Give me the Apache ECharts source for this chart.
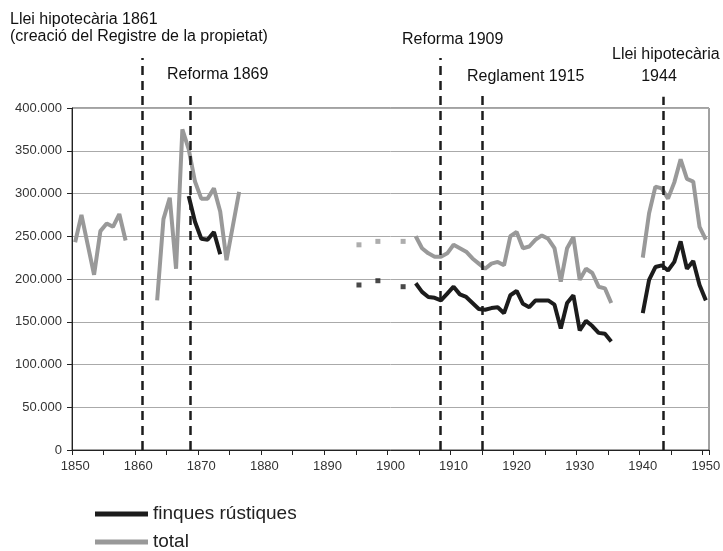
<!DOCTYPE html>
<html>
<head>
<meta charset="utf-8">
<script src="https://cdn.jsdelivr.net/npm/echarts@6.0.0/dist/echarts.min.js"></script>
<style>
html, body { margin: 0; padding: 0; background: #fff; }
#chart { width: 723px; height: 551px; }
</style>
</head>
<body>
<div id="chart"></div>
<script>
// years on the category axis
var firstYear = 1850, lastYear = 1950;
var years = [];
for (var y = firstYear; y <= lastYear; y++) years.push(String(y));

// total (grey)
var total1850 = [243000, 275000, 240000, 205000, 256000, 265000, 261000, 276000, 245000];
var total1863 = [175000, 270000, 295000, 212000, 375000, 352000, 314000, 294000, 294000, 306000, 279000, 222000, 262000, 302000];
var totalSingleYears = [1895, 1898, 1902];
var totalSingleValues = [240000, 244000, 244000];
var total1904 = [250000, 236000, 230000, 226000, 226000, 230000, 240000, 236000, 232000, 224000,
                 218000, 212000, 218000, 220000, 216000, 250000, 255000, 236000, 238000, 246000,
                 251000, 247000, 236000, 197000, 236000, 249000, 199000, 212000, 207000, 191000,
                 189000, 172000];
var total1940 = [225000, 277000, 308000, 306000, 294000, 313000, 340000, 317000, 314000, 261000, 246000];

// finques rustiques (black)
var rustic1868 = [297000, 267000, 247000, 246000, 255000, 229000];
var rusticSingleYears = [1895, 1898, 1902];
var rusticSingleValues = [193000, 198000, 191000];
var rustic1904 = [195000, 185000, 179000, 178000, 175000, 183000, 191000, 182000, 179000, 172000,
                  165000, 164000, 166000, 167000, 160000, 181000, 186000, 171000, 167000, 175000,
                  175000, 175000, 170000, 142000, 172000, 181000, 140000, 151000, 145000, 137000,
                  136000, 127000];
var rustic1940 = [160000, 199000, 214000, 216000, 210000, 220000, 244000, 212000, 221000, 193000, 175000];

// legislative events (dashed lines), position on the year scale
var eventYears = [1861.2, 1868.8, 1908.4, 1915.0, 1943.7];

// --- build aligned arrays ---
function blank() {
    var a = [];
    for (var i = 0; i < years.length; i++) a.push(null);
    return a;
}
function put(arr, start, vals) {
    for (var i = 0; i < vals.length; i++) arr[start - firstYear + i] = vals[i];
}
var totalData = blank();
put(totalData, 1850, total1850);
put(totalData, 1863, total1863);
put(totalData, 1904, total1904);
put(totalData, 1940, total1940);

var rusticData = blank();
put(rusticData, 1868, rustic1868);
put(rusticData, 1904, rustic1904);
put(rusticData, 1940, rustic1940);

function points(ys, vs) {
    return ys.map(function (yr, i) { return [String(yr), vs[i]]; });
}

var FONT = '"Liberation Sans", Arial, sans-serif';
var BLACK = '#1c1c1c';
var GREY = '#999999';

// top end of each dashed line (fraction of the overlay grid height)
var eventTops = [0.98, 0.9, 0.98, 0.9, 0.883];

function thousands(v) {
    return String(v).replace(/\B(?=(\d{3})+(?!\d))/g, '.');
}

function txt(x, y, s, align) {
    return {
        type: 'text', x: x, y: y, silent: true,
        style: { text: s, x: 0, y: 0, fill: '#111', font: '16px ' + FONT, textAlign: align || 'left', textVerticalAlign: 'top' }
    };
}

var myChart = echarts.init(document.getElementById('chart'));

var option = {
    animation: false,
    backgroundColor: '#fff',
    textStyle: { fontFamily: FONT },
    grid: [
        { left: 72, right: 14, top: 108, bottom: 101, show: true, borderColor: '#444', borderWidth: 1, containLabel: false, outerBoundsMode: 'none' },
        { left: 72, right: 14, top: 50, bottom: 101, containLabel: false, outerBoundsMode: 'none' }
    ],
    xAxis: [{
        type: 'category',
        gridIndex: 0,
        data: years,
        boundaryGap: true,
        axisLine: { show: true, lineStyle: { color: '#222', width: 1 } },
        axisTick: { show: true, interval: 4, length: 5, lineStyle: { color: '#222' } },
        axisLabel: { interval: 9, fontSize: 13, color: '#333', margin: 10, fontFamily: FONT },
        splitLine: { show: false }
    }, {
        type: 'value', gridIndex: 1, min: 1850, max: 1951, show: false
    }],
    yAxis: [{
        type: 'value',
        gridIndex: 0,
        min: 0,
        max: 400000,
        interval: 50000,
        axisLine: { show: true, lineStyle: { color: '#222', width: 1 } },
        axisTick: { show: true, length: 5, lineStyle: { color: '#222' } },
        axisLabel: { formatter: thousands, fontSize: 13, color: '#333', margin: 10, fontFamily: FONT },
        splitLine: { show: true, lineStyle: { color: '#aaaaaa', width: 1 } }
    }, {
        type: 'value', gridIndex: 1, min: 0, max: 1, show: false
    }],
    legend: {
        data: ['finques rústiques', 'total'],
        orient: 'vertical',
        left: 95,
        top: 504,
        height: 70,
        padding: 0,
        itemWidth: 53,
        itemHeight: 5,
        itemGap: 8,
        icon: 'rect',
        selectedMode: false,
        textStyle: { fontSize: 19, color: '#222', fontFamily: FONT, lineHeight: 20 }
    },
    graphic: [
        txt(10, 12, 'Llei hipotecària 1861'),
        txt(10, 29, '(creació del Registre de la propietat)'),
        txt(167, 67, 'Reforma 1869'),
        txt(402, 32, 'Reforma 1909'),
        txt(467, 69, 'Reglament 1915'),
        txt(612, 47, 'Llei hipotecària'),
        txt(659, 69, '1944', 'center')
    ],
    series: [{
        name: 'total',
        type: 'line',
        data: totalData,
        connectNulls: false,
        showSymbol: false,
        symbol: 'none',
        itemStyle: { color: GREY },
        lineStyle: { color: GREY, width: 4 },
        z: 2
    }, {
        name: 'finques rústiques',
        type: 'line',
        data: rusticData,
        connectNulls: false,
        showSymbol: false,
        symbol: 'none',
        itemStyle: { color: BLACK },
        lineStyle: { color: BLACK, width: 4 },
        z: 3
    }, {
        name: 'total punts',
        type: 'scatter',
        data: points(totalSingleYears, totalSingleValues),
        symbol: 'rect',
        symbolSize: 5,
        itemStyle: { color: GREY },
        z: 2
    }, {
        name: 'rustiques punts',
        type: 'scatter',
        data: points(rusticSingleYears, rusticSingleValues),
        symbol: 'rect',
        symbolSize: 5,
        itemStyle: { color: BLACK },
        z: 3
    }, {
        name: 'events',
        type: 'line',
        xAxisIndex: 1,
        yAxisIndex: 1,
        data: [],
        symbol: 'none',
        z: 4,
        markLine: {
            silent: true,
            animation: false,
            symbol: ['none', 'none'],
            label: { show: false },
            lineStyle: { color: BLACK, width: 2.5, type: [9, 6] },
            data: eventYears.map(function (x, i) {
                return [{ coord: [x, 0] }, { coord: [x, eventTops[i]] }];
            })
        }
    }]
};

myChart.setOption(option);
</script>
</body>
</html>
